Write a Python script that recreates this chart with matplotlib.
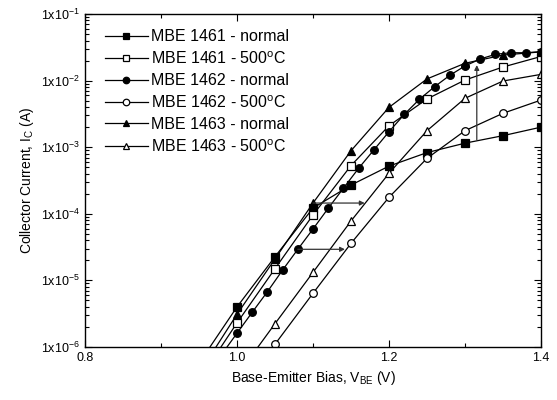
import numpy as np
import matplotlib
matplotlib.use('Agg')
import matplotlib.pyplot as plt
from matplotlib.ticker import FixedLocator, LogLocator, FuncFormatter, NullFormatter

plt.rcParams['font.family'] = ['Liberation Sans', 'DejaVu Sans']
plt.rcParams['mathtext.fontset'] = 'custom'
plt.rcParams['mathtext.rm'] = 'Liberation Sans'
plt.rcParams['mathtext.it'] = 'Liberation Sans:italic'

# データ
v_1461n = [0.95, 1.0, 1.05, 1.1, 1.15, 1.2, 1.25, 1.3, 1.35, 1.4]
i_1461n = [5.7e-7, 4.0e-6, 2.27e-5, 1.22e-4, 2.7e-4, 5.2e-4, 8.3e-4, 1.15e-3, 1.49e-3, 2.0e-3]

v_1461h = [0.95, 1.0, 1.05, 1.1, 1.15, 1.2, 1.25, 1.3, 1.35, 1.4]
i_1461h = [3.2e-7, 2.3e-6, 1.5e-5, 9.6e-5, 5.3e-4, 2.1e-3, 5.3e-3, 1.02e-2, 1.6e-2, 2.3e-2]

v_1462n = [0.98, 1.0, 1.02, 1.04, 1.06, 1.08, 1.1, 1.12, 1.14, 1.16, 1.18, 1.2,
           1.22, 1.24, 1.26, 1.28, 1.3, 1.32, 1.34, 1.36, 1.38, 1.4]
i_1462n = [7.8e-7, 1.61e-6, 3.32e-6, 6.76e-6, 1.43e-5, 2.93e-5, 5.91e-5, 1.21e-4,
           2.42e-4, 4.82e-4, 9.07e-4, 1.71e-3, 3.1e-3, 5.24e-3, 8.1e-3, 1.2e-2,
           1.66e-2, 2.11e-2, 2.48e-2, 2.62e-2, 2.62e-2, 2.72e-2]

v_1462h = [1.05, 1.1, 1.15, 1.2, 1.25, 1.3, 1.35, 1.4]
i_1462h = [1.1e-6, 6.4e-6, 3.6e-5, 1.77e-4, 6.8e-4, 1.77e-3, 3.23e-3, 5.1e-3]

v_1463n = [0.95, 1.0, 1.05, 1.1, 1.15, 1.2, 1.25, 1.3, 1.35, 1.4]
i_1463n = [4.0e-7, 3.1e-6, 2.1e-5, 1.45e-4, 8.85e-4, 3.97e-3, 1.06e-2, 1.82e-2, 2.42e-2, 2.7e-2]

v_1463h = [1.0, 1.05, 1.1, 1.15, 1.2, 1.25, 1.3, 1.35, 1.4]
i_1463h = [3.7e-7, 2.24e-6, 1.32e-5, 7.8e-5, 4.06e-4, 1.77e-3, 5.42e-3, 9.86e-3, 1.24e-2]

fig = plt.figure(figsize=(5.57, 4.0), dpi=100)
ax = fig.add_axes([0.1526, 0.1325, 0.8187, 0.8325])

series = [
    (v_1461n, i_1461n, 's', 'k', 'MBE 1461 - normal'),
    (v_1461h, i_1461h, 's', 'w', 'MBE 1461 - 500$^{\\rm o}$C'),
    (v_1462n, i_1462n, 'o', 'k', 'MBE 1462 - normal'),
    (v_1462h, i_1462h, 'o', 'w', 'MBE 1462 - 500$^{\\rm o}$C'),
    (v_1463n, i_1463n, '^', 'k', 'MBE 1463 - normal'),
    (v_1463h, i_1463h, '^', 'w', 'MBE 1463 - 500$^{\\rm o}$C'),
]
for v, cur, m, fc, lab in series:
    ax.plot(v, cur, color='k', lw=0.9, marker=m, ms=5.5, mfc=fc, mec='k', mew=0.9, label=lab)

# 矢印
arr = dict(arrowstyle='-|>', color='#333333', lw=0.9, mutation_scale=7, shrinkA=0, shrinkB=0)
ax.annotate('', xy=(1.168, 1.45e-4), xytext=(1.1, 1.45e-4), arrowprops=arr)
ax.annotate('', xy=(1.142, 2.93e-5), xytext=(1.08, 2.93e-5), arrowprops=arr)
ax.annotate('', xy=(1.3155, 1.71e-2), xytext=(1.3155, 1.28e-3), arrowprops=arr)

ax.set_yscale('log')
ax.set_xlim(0.8, 1.4)
ax.set_ylim(1e-6, 1e-1)
ax.xaxis.set_major_locator(FixedLocator([0.8, 1.0, 1.2, 1.4]))
ax.xaxis.set_minor_locator(FixedLocator([0.9, 1.1, 1.3]))
ax.xaxis.set_major_formatter(FuncFormatter(lambda x, p: f'{x:.1f}'))
ax.yaxis.set_major_locator(LogLocator(base=10, numticks=10))
ax.yaxis.set_minor_locator(LogLocator(base=10, subs=np.arange(2, 10), numticks=20))
ax.yaxis.set_minor_formatter(NullFormatter())
ax.yaxis.set_major_formatter(FuncFormatter(lambda y, p: '1x10$^{%d}$' % round(np.log10(y))))

ax.tick_params(which='both', direction='in', top=True, right=True, labelsize=9, width=0.8)
ax.tick_params(which='major', length=5)
ax.tick_params(which='minor', length=3)
for s in ax.spines.values():
    s.set_linewidth(1.0)

ax.set_xlabel('Base-Emitter Bias, V$_{\\rm BE}$ (V)', fontsize=10)
ax.set_ylabel('Collector Current, I$_{\\rm C}$ (A)', fontsize=10)

ax.legend(loc='upper left', bbox_to_anchor=(0.029, 0.973), frameon=False, fontsize=11.5,
          handlelength=2.7, labelspacing=0.38, borderaxespad=0, handletextpad=0.2,
          markerscale=0.85)

fig.savefig('out.png', dpi=100)
